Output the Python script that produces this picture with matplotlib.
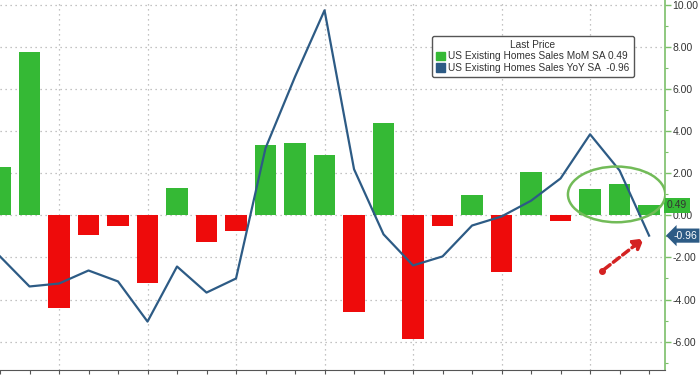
import matplotlib.pyplot as plt
import numpy as np
from matplotlib.patches import Ellipse

# Monthly values, oldest first (left edge of chart is cropped).
mom = [2.3, 7.76, -4.4, -0.95, -0.48, -3.2, 1.3, -1.25, -0.73, 3.33, 3.47, 2.86,
       -4.6, 4.38, -5.86, -0.5, 0.97, -2.7, 2.05, -0.25, 1.24, 1.48, 0.49]
yoy = [-1.95, -3.38, -3.24, -2.62, -3.14, -5.05, -2.43, -3.67, -3.0, 3.2, 6.6, 9.76,
       2.2, -0.9, -2.38, -1.95, -0.48, -0.05, 0.7, 1.76, 3.86, 2.14, -0.96]
legend_title = "Last Price"
mom_label = "US Existing Homes Sales MoM SA"
yoy_label = "US Existing Homes Sales YoY SA"
y_ticks = [-6, -4, -2, 0, 2, 4, 6, 8, 10]

green = "#35b935"
red = "#ee0b0b"
blue = "#2d5b85"
axis_green = "#7cbf6a"

plt.rcParams['font.family'] = ['Liberation Sans', 'DejaVu Sans']

x = np.arange(len(mom))
mom = np.array(mom)

fig = plt.figure(figsize=(7, 3.75), dpi=100)
ax = fig.add_axes([0, 0.013, 665 / 700, 0.987])

bar_colors = [green if v >= 0 else red for v in mom]
ax.bar(x, mom, width=0.74, color=bar_colors, zorder=2)
ax.plot(x, yoy, color=blue, lw=1.6, zorder=3)

ax.set_xlim(0.228, 22.54)
ax.set_ylim(-7.36, 10.25)

# grid: horizontal every 2, vertical every 3 bars
ax.set_yticks(y_ticks)
ax.set_yticks(np.arange(-7, 11, 1), minor=True)
ax.set_xticks(np.arange(2, 23, 3))
ax.set_xticks(x, minor=True)
ax.grid(True, which="major", color="#b0b0b0", ls=(0, (1, 3)), lw=0.9, zorder=0)
ax.set_xticklabels([])

ax.yaxis.tick_right()
ax.set_yticklabels([f"{v:.2f}" for v in y_ticks], fontsize=7.5, color="#333333")
ax.tick_params(axis="y", which="both", colors=axis_green, labelcolor="#333333",
               direction="out", pad=1.5)
ax.tick_params(axis="y", which="major", length=4, width=1)
ax.tick_params(axis="y", which="minor", length=2, width=0.8)
ax.tick_params(axis="x", which="both", colors="#555555", direction="out",
               length=3, width=0.8)

for s in ["top", "left"]:
    ax.spines[s].set_visible(False)
ax.spines["right"].set_color(axis_green)
ax.spines["right"].set_linewidth(1.2)
ax.spines["bottom"].set_color("#555555")

# legend
h1 = plt.Rectangle((0, 0), 1, 1, color=green)
h2 = plt.Rectangle((0, 0), 1, 1, color=blue)
leg = ax.legend([h1, h2], [f"{mom_label} {mom[-1]:.2f}", f"{yoy_label}  {yoy[-1]:.2f}"],
                title=legend_title, loc="upper left", bbox_to_anchor=(0.65, 0.903),
                fontsize=7.3, title_fontsize=7.3, frameon=True, fancybox=True,
                handlelength=0.9, handleheight=0.9, handletextpad=0.3,
                borderpad=0.4, labelspacing=0.15, borderaxespad=0)
leg.get_frame().set_edgecolor("#555555")
leg.get_frame().set_linewidth(1.0)
leg.get_frame().set_alpha(1)
for t in leg.get_texts():
    t.set_color("#333333")
leg.get_title().set_color("#333333")

# last value tags on the axis
ax.text(1.003, mom[-1], f"{mom[-1]:.2f}", transform=ax.get_yaxis_transform(),
        fontsize=7.5, color="#333333", va="center", ha="left", clip_on=False,
        bbox=dict(boxstyle="square,pad=0.25", fc=green, ec="none"))
ax.text(1.013, yoy[-1], f"{yoy[-1]:.2f}", transform=ax.get_yaxis_transform(),
        fontsize=7.5, color="white", va="center", ha="left", clip_on=False,
        bbox=dict(boxstyle="larrow,pad=0.2", fc=blue, ec="none"))

# annotations: ellipse around last bars and dashed arrow to last YoY point
ell = Ellipse((20.9, 1.0), width=3.3, height=2.65, fill=False,
              ec="#72bb58", lw=1.8, zorder=4)
ax.add_patch(ell)
ax.annotate("", xy=(21.9, yoy[-1] - 0.05), xytext=(20.4, -2.65),
            arrowprops=dict(arrowstyle="-|>,head_length=0.6,head_width=0.35",
                            color="#d42222", lw=2.5, ls=(0, (2.2, 1.2))), zorder=5)
ax.plot([20.4], [-2.65], "o", color="#d42222", ms=4, zorder=5)

fig.savefig("out.png", dpi=100)
